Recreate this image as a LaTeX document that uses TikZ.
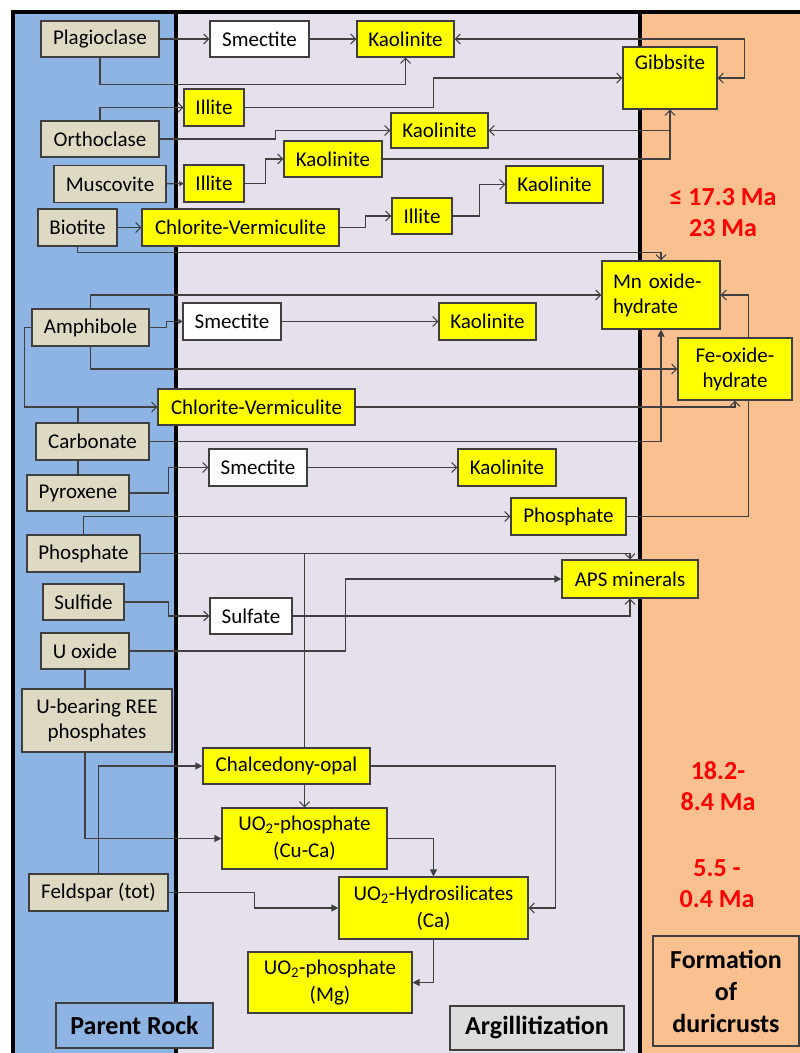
\documentclass[tikz,border=0pt]{standalone}
\usepackage{fontspec}
\setmainfont{Carlito}
\usetikzlibrary{arrows.meta}
\definecolor{rockblue}{HTML}{8DB4E2}
\definecolor{lav}{HTML}{E5E0EC}
\definecolor{orng}{HTML}{FAC090}
\definecolor{beige}{HTML}{DDD9C3}
\definecolor{yel}{HTML}{FFFF00}
\definecolor{edge}{HTML}{3F3F3F}
\definecolor{conn}{HTML}{404040}
\definecolor{lblgray}{HTML}{DCDCDC}
\definecolor{redtxt}{HTML}{FF0000}
\pgfdeclarelayer{bg}\pgfdeclarelayer{ln}\pgfsetlayers{bg,ln,main}
\begin{document}
\begin{tikzpicture}[x=1pt,y=-1pt,
  wh/.style 2 args={minimum width=#1,minimum height=#2},
  box/.style={draw=edge,line width=1.1pt,inner sep=0pt,align=center,font=\fontsize{21}{25}\selectfont},
  rock/.style={box,fill=beige},
  ybox/.style={box,fill=yel},
  wbox/.style={box,fill=white},
  con/.style={draw=conn,line width=1.1pt},
  oa/.style={con,-{Straight Barb[length=5pt,width=10pt]}},
  fa/.style={con,-{Triangle[length=7pt,width=7pt]}},
  sa/.style={con,-{Triangle[length=4pt,width=5pt]}},
  oo/.style={con,{Straight Barb[length=5pt,width=10pt]}-{Straight Barb[length=5pt,width=10pt]}},
  redlbl/.style={text=redtxt,font=\fontsize{26}{31}\selectfont\bfseries,align=center,inner sep=0pt},
  lbl/.style={draw=edge,line width=1.1pt,inner sep=0pt,align=center,font=\fontsize{26}{32}\selectfont\bfseries},
]
\useasboundingbox (0,0) rectangle (800,1053);
\begin{pgfonlayer}{bg}
\fill[white] (0,0) rectangle (800,1053);
\fill[rockblue] (13,12) rectangle (176,1053);
\fill[lav] (176,12) rectangle (640,1053);
\fill[orng] (640,12) rectangle (800,1053);
\draw[line width=4pt] (13,1053) -- (13,12) -- (800,12);
\draw[line width=4.5pt] (176,12) -- (176,1053);
\draw[line width=4pt] (640,12) -- (640,1053);
\end{pgfonlayer}

% parent rock nodes
\node[rock,wh={118}{36}] (plag) at (100,39) {Plagioclase};
\node[rock,wh={118}{36}] (orth) at (100,139) {Orthoclase};
\node[rock,wh={112}{37}] (musc) at (110,184) {Muscovite};
\node[rock,wh={79}{37}] (bio) at (77.5,227.5) {Biotite};
\node[rock,wh={117}{37}] (amph) at (90.5,327.5) {Amphibole};
\node[rock,wh={113}{37}] (carb) at (92.5,441.5) {Carbonate};
\node[rock,wh={102}{36}] (pyr) at (78,493) {Pyroxene};
\node[rock,wh={113}{37}] (phosP) at (83.5,553.5) {Phosphate};
\node[rock,wh={81}{36}] (sulfide) at (83.5,602) {Sulfide};
\node[rock,wh={88}{36}] (uox) at (85,651) {U oxide};
\node[rock,wh={150}{63}] (ubear) at (97,720.5) {U-bearing REE\\phosphates};
\node[rock,wh={139}{37}] (feld) at (98.5,892.5) {Feldspar (tot)};

% argillitization nodes
\node[wbox,wh={99}{36}] (sm1) at (259.5,39) {Smectite};
\node[ybox,wh={97}{36}] (ka1) at (405.5,39) {Kaolinite};
\node[ybox,wh={60}{37}] (il1) at (214,107.5) {Illite};
\node[ybox,wh={97}{35}] (ka2) at (439.5,130.5) {Kaolinite};
\node[ybox,wh={98}{36}] (ka3) at (333,159) {Kaolinite};
\node[ybox,wh={60}{37}] (il2) at (214,183.5) {Illite};
\node[ybox,wh={197}{37}] (cv1) at (240.5,227.5) {Chlorite-Vermiculite};
\node[ybox,wh={60}{36}] (il3) at (422,216) {Illite};
\node[ybox,wh={97}{37}] (ka4) at (554.5,184.5) {Kaolinite};
\node[ybox,wh={94}{62}] (gib) at (670,78) {Gibbsite\\\strut};
\node[ybox,wh={118}{68},align=left,text width=96] (mn) at (661,295) {Mn oxide-\\hydrate};
\node[ybox,wh={114}{62}] (fe) at (735,369) {Fe-oxide-\\hydrate};
\node[wbox,wh={98}{37}] (sm2) at (232,321.5) {Smectite};
\node[ybox,wh={97}{37}] (ka5) at (487.5,321.5) {Kaolinite};
\node[ybox,wh={197}{36}] (cv2) at (256.5,407) {Chlorite-Vermiculite};
\node[wbox,wh={98}{37}] (sm3) at (258,467.5) {Smectite};
\node[ybox,wh={98}{37}] (ka6) at (507,467.5) {Kaolinite};
\node[ybox,wh={115}{37}] (phY) at (568.5,516.5) {Phosphate};
\node[ybox,wh={136}{38}] (aps) at (630,579) {APS minerals};
\node[wbox,wh={82}{36}] (sulfate) at (251,616) {Sulfate};
\node[ybox,wh={167}{36}] (chal) at (286.5,766) {Chalcedony-opal};
\node[ybox,wh={165}{61},font=\fontsize{21}{27}\selectfont] (uoCu) at (304.5,838.5) {UO\textsubscript{2}-phosphate\\(Cu-Ca)};
\node[ybox,wh={189}{62},font=\fontsize{21}{27}\selectfont] (hyd) at (433.5,908) {UO\textsubscript{2}-Hydrosilicates\\(Ca)};
\node[ybox,wh={164}{61},font=\fontsize{21}{27}\selectfont] (uoMg) at (330,982.5) {UO\textsubscript{2}-phosphate\\(Mg)};

% labels
\node[lbl,fill=rockblue,wh={157}{45}] (parL) at (134.5,1025.5) {Parent Rock};
\node[lbl,fill=lblgray,wh={174}{44}] (argL) at (537,1028) {Argillitization};
\node[lbl,fill=orng,wh={146}{110}] (formL) at (726,991) {Formation\\of\\duricrusts};
\node[redlbl] (age1) at (723,213) {≤ 17.3 Ma\\23 Ma};
\node[redlbl] (age2) at (718,786) {18.2-\\8.4 Ma};
\node[redlbl] (age3) at (717,884) {5.5 -\\0.4 Ma};

\begin{pgfonlayer}{ln}
\draw[oa] (plag) -- (sm1);
\draw[oa] (sm1) -- (ka1);
\draw[oa] (plag.south) -- ++(0,27) -| (ka1.south);
\draw[oo] (ka1.east) -- ++(290,0) |- (gib.east);
\draw[oa] (orth.north) |- (il1.west);
\draw[oa] (il1.east) -- ++(189,0) |- (gib.west);
\draw[oa] (orth.east) -- ++(116,0) |- (ka2.west);
\draw[oa] (ka3.east) -| (gib.south);
\draw[oa] (gib.south) |- (ka2.east);
\draw[sa] (musc) -- (il2);
\draw[oa] (il2.east) -- ++(21,0) |- (ka3.west);
\draw[oa] (bio) -- (cv1);
\draw[oa] (cv1.east) -- ++(26,0) |- (il3.west);
\draw[oa] (il3.east) -- ++(27,0) |- (ka4.west);
\draw[oa] (bio.south) -- ++(0,6) -| (mn.north);
\draw[oa] (amph.north) |- (mn.west);
\draw[sa] (amph.east) -- ++(17,0) |- (sm2.west);
\draw[oa] (sm2) -- (ka5);
\draw[oa] (amph.south) |- (fe.west);
\draw[oa] (amph.west) -- ++(-7,0) |- (cv2.west);
\draw[con] (pyr.north) -- (pyr.north |- cv2.west);
\draw[oa] (cv2.east) -| (fe.south);
\draw[fa] (carb.east) -| (mn.south);
\draw[oa] (pyr.east) -- ++(39,0) |- (sm3.west);
\draw[oa] (sm3) -- (ka6);
\draw[oa] (phosP.north) |- (phY.west);
\draw[oa] (phY.east) -- ++(122,0) |- (mn.east);
\draw[oa] (phosP.east) -| (aps.north);
\draw[con] (phosP.east -| uoCu.north) -- (uoCu.north |- chal.north);
\draw[oa] (uoCu.north |- chal.south) -- (uoCu.north);
\draw[oa] (sulfide.east) -- ++(44,0) |- (sulfate.west);
\draw[oa] (sulfate.east) -| (aps.south);
\draw[fa] (uox.east) -- ++(216,0) |- (aps.west);
\draw[con] (uox.south) -- (uox.south |- ubear.north);
\draw[fa] (uox.south |- ubear.south) |- (uoCu.west);
\draw[fa] (feld.north) |- (chal.west);
\draw[fa] (feld.east) -- ++(86,0) |- (hyd.west);
\draw[fa] (uoCu.east) -| (hyd.north);
\draw[oa] (chal.east) -- ++(185,0) |- (hyd.east);
\draw[fa] (hyd.south) |- (uoMg.east);
\end{pgfonlayer}
\end{tikzpicture}
\end{document}
